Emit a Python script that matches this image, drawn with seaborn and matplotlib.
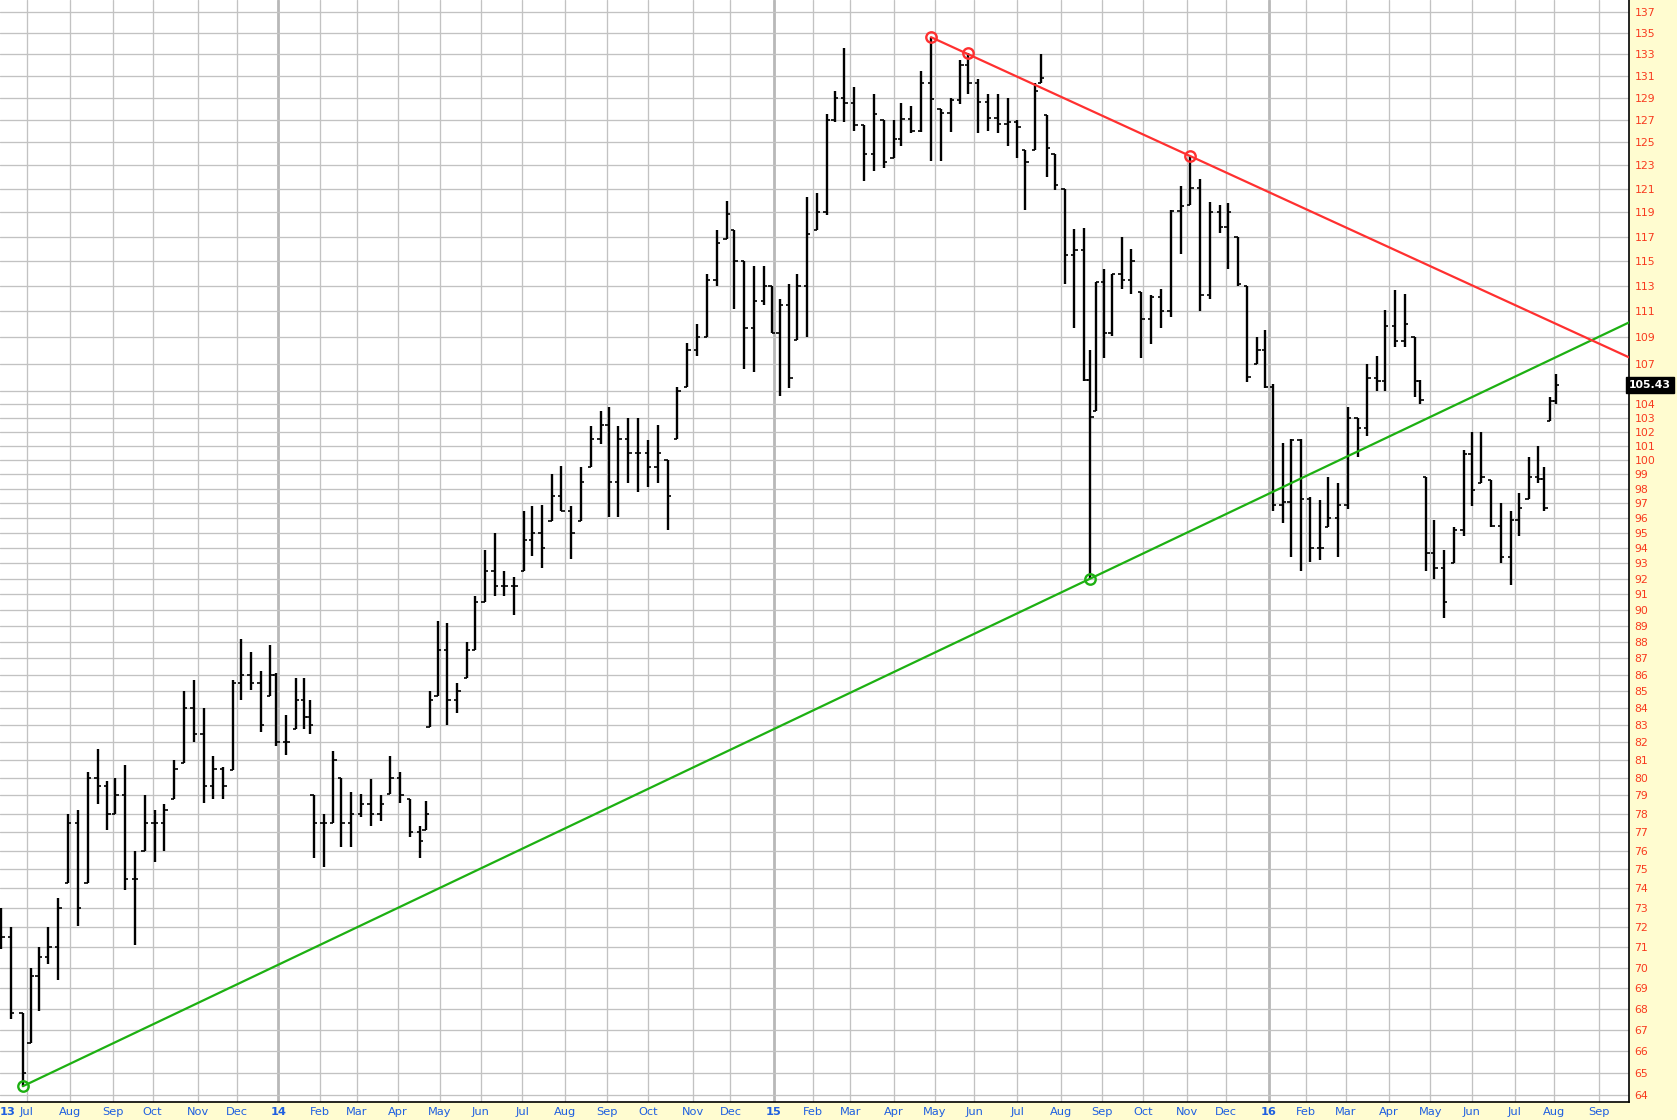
import numpy as np
import pandas as pd
import matplotlib
matplotlib.use('Agg')
import matplotlib.pyplot as plt
import matplotlib.transforms as mtrans
import seaborn as sns
from matplotlib.ticker import FixedLocator, FixedFormatter, NullLocator
from pandas.tseries.holiday import (AbstractHolidayCalendar, Holiday, nearest_workday,
                                    USMartinLutherKingJr, USPresidentsDay, GoodFriday,
                                    USMemorialDay, USLaborDay, USThanksgivingDay)
from pandas.tseries.offsets import CustomBusinessDay

# weekly price bars (centre date of each bar)
bar_dates = [
    # 2013
    '2013-06-12', '2013-06-19', '2013-06-27', '2013-07-03', '2013-07-10', '2013-07-17', '2013-07-24', '2013-07-31',
    '2013-08-07', '2013-08-14', '2013-08-21', '2013-08-28', '2013-09-04', '2013-09-11', '2013-09-18', '2013-09-25',
    '2013-10-02', '2013-10-09', '2013-10-16', '2013-10-23', '2013-10-30', '2013-11-06', '2013-11-13', '2013-11-20',
    '2013-11-27', '2013-12-04', '2013-12-11', '2013-12-18', '2013-12-26', '2013-12-31',
    # 2014
    '2014-01-08', '2014-01-15', '2014-01-22', '2014-01-27', '2014-01-29', '2014-02-05', '2014-02-12', '2014-02-19',
    '2014-02-26', '2014-03-05', '2014-03-12', '2014-03-19', '2014-03-26', '2014-04-02', '2014-04-09', '2014-04-16',
    '2014-04-22', '2014-04-24', '2014-04-30', '2014-05-07', '2014-05-14', '2014-05-21', '2014-05-28', '2014-06-04',
    '2014-06-11', '2014-06-18', '2014-06-25', '2014-07-02', '2014-07-09', '2014-07-16', '2014-07-23', '2014-07-30',
    '2014-08-06', '2014-08-13', '2014-08-20', '2014-08-27', '2014-09-03', '2014-09-10', '2014-09-17', '2014-09-24',
    '2014-10-01', '2014-10-08', '2014-10-15', '2014-10-22', '2014-10-29', '2014-11-05', '2014-11-12', '2014-11-19',
    '2014-11-26', '2014-12-03', '2014-12-10', '2014-12-17', '2014-12-24', '2014-12-31',
    # 2015
    '2015-01-07', '2015-01-14', '2015-01-21', '2015-01-28', '2015-02-04', '2015-02-11', '2015-02-18', '2015-02-25',
    '2015-03-04', '2015-03-11', '2015-03-18', '2015-03-25', '2015-04-01', '2015-04-08', '2015-04-15', '2015-04-22',
    '2015-04-29', '2015-05-06', '2015-05-13', '2015-05-20', '2015-05-27', '2015-06-03', '2015-06-10', '2015-06-17',
    '2015-06-24', '2015-07-01', '2015-07-08', '2015-07-15', '2015-07-20', '2015-07-23', '2015-07-29', '2015-08-05',
    '2015-08-12', '2015-08-19', '2015-08-24', '2015-08-27', '2015-09-02', '2015-09-09', '2015-09-16', '2015-09-23',
    '2015-09-30', '2015-10-07', '2015-10-14', '2015-10-21', '2015-10-28', '2015-11-04', '2015-11-11', '2015-11-18',
    '2015-11-25', '2015-12-02', '2015-12-09', '2015-12-16', '2015-12-23', '2015-12-30',
    # 2016
    '2016-01-06', '2016-01-13', '2016-01-20', '2016-01-27', '2016-02-03', '2016-02-10', '2016-02-17', '2016-02-24',
    '2016-03-02', '2016-03-09', '2016-03-16', '2016-03-23', '2016-03-30', '2016-04-06', '2016-04-13', '2016-04-20',
    '2016-04-25', '2016-04-28', '2016-05-04', '2016-05-11', '2016-05-18', '2016-05-25', '2016-06-01', '2016-06-08',
    '2016-06-15', '2016-06-22', '2016-06-29', '2016-07-06', '2016-07-13', '2016-07-20', '2016-07-25', '2016-07-28',
    '2016-08-02',
]

bar_high = [
    73.0, 72.0, 67.8, 70.0, 71.0, 72.0, 73.5, 78.0, 78.2, 80.3, 81.6, 79.8, 80.0, 80.7, 76.0, 79.0,
    78.2, 78.5, 81.0, 85.0, 85.7, 84.0, 81.2, 80.6, 85.7, 88.2, 87.4, 86.2, 87.8, 86.1,
    83.6, 85.8, 85.8, 84.5, 79.0, 78.0, 81.5, 80.0, 79.2, 79.1, 79.9, 79.0, 81.2, 80.3, 78.8, 77.3,
    78.7, 85.0, 89.3, 89.2, 85.5, 88.0, 90.9, 93.9, 95.0, 92.5, 92.1, 96.5, 96.8, 96.9, 99.0, 99.6,
    96.8, 99.5, 102.4, 103.5, 103.8, 102.4, 103.0, 103.0, 101.4, 102.5, 100.0, 105.3, 108.6, 110.0, 114.0, 117.5,
    120.0, 117.5, 115.0, 114.6, 114.6, 113.0,
    112.0, 113.2, 114.0, 120.3, 120.6, 127.5, 129.6, 133.6, 130.0, 126.5, 129.3, 127.0, 127.0, 128.5, 128.2, 131.4,
    134.6, 128.0, 129.0, 132.5, 133.1, 130.7, 129.3, 129.3, 129.0, 127.0, 124.3, 130.3, 133.0, 127.4, 124.0, 121.0,
    117.6, 117.7, 108.0, 113.3, 114.4, 114.0, 117.0, 116.0, 112.5, 112.3, 112.8, 119.2, 121.2, 123.8, 121.8, 119.9,
    119.6, 119.8, 117.0, 113.0, 109.0, 109.6,
    105.5, 101.2, 101.5, 101.5, 97.4, 97.2, 98.8, 98.4, 103.8, 103.0, 107.0, 107.6, 111.1, 112.7, 112.4, 109.0,
    105.8, 98.8, 95.9, 93.9, 95.4, 100.7, 102.0, 102.0, 98.6, 97.0, 96.5, 97.7, 100.2, 101.0, 99.5, 104.5,
    106.2,
]

bar_low = [
    70.9, 67.5, 64.4, 66.4, 67.9, 70.2, 69.4, 74.3, 72.1, 74.3, 78.5, 77.1, 78.0, 73.9, 71.1, 76.0,
    75.4, 76.0, 78.8, 80.8, 82.0, 78.6, 78.8, 78.8, 80.4, 84.5, 85.1, 82.6, 84.7, 81.8,
    81.3, 82.8, 82.8, 82.5, 75.6, 75.1, 77.5, 76.2, 76.2, 77.8, 77.3, 77.6, 79.1, 78.6, 76.7, 75.6,
    77.1, 82.9, 84.7, 83.0, 83.7, 85.8, 87.5, 90.5, 90.9, 90.9, 89.7, 92.5, 93.5, 92.7, 95.8, 96.5,
    93.3, 95.8, 99.5, 101.1, 96.1, 96.1, 98.4, 97.8, 98.1, 98.4, 95.2, 101.5, 105.3, 107.6, 109.0, 113.0,
    116.8, 111.2, 106.6, 106.4, 111.5, 109.3,
    104.6, 105.2, 108.8, 109.0, 117.5, 118.8, 126.8, 126.8, 126.0, 121.7, 122.5, 122.8, 123.6, 124.7, 125.8, 125.9,
    123.4, 123.4, 125.9, 128.4, 129.3, 125.8, 126.0, 125.8, 124.7, 123.6, 119.2, 124.3, 130.3, 122.0, 120.9, 113.2,
    109.7, 105.7, 92.0, 103.5, 107.4, 109.1, 112.8, 112.4, 107.4, 108.5, 109.7, 110.6, 115.6, 119.6, 111.0, 112.0,
    117.3, 114.4, 113.0, 105.6, 107.0, 105.2,
    96.5, 95.7, 93.4, 92.5, 93.1, 93.2, 95.4, 93.4, 96.6, 100.2, 101.7, 105.0, 105.0, 108.3, 108.3, 104.5,
    104.0, 92.5, 92.0, 89.5, 93.0, 94.8, 96.8, 98.4, 95.4, 93.0, 91.6, 94.8, 97.3, 98.4, 96.5, 102.8,
    104.0,
]

bar_close = [
    71.5, 67.8, 65.0, 69.6, 70.5, 71.0, 73.0, 77.5, 73.0, 80.0, 79.5, 78.0, 79.0, 74.5, 74.5, 77.5,
    77.5, 78.2, 80.5, 84.0, 82.5, 79.5, 80.5, 79.5, 85.5, 86.0, 85.5, 83.0, 86.0, 82.0,
    82.0, 84.5, 83.5, 83.0, 77.5, 77.5, 81.0, 77.5, 78.0, 78.5, 78.0, 78.5, 80.0, 79.0, 77.0, 76.5,
    78.0, 84.5, 87.5, 84.5, 85.0, 87.5, 90.5, 92.5, 91.5, 91.5, 91.5, 94.5, 95.0, 94.0, 97.5, 96.5,
    95.0, 98.5, 101.5, 102.5, 98.5, 101.5, 100.5, 100.5, 99.5, 100.5, 97.5, 105.0, 108.0, 109.0, 113.5, 116.5,
    118.9, 115.0, 109.7, 111.8, 113.0, 109.3,
    111.5, 105.9, 113.0, 117.2, 119.0, 127.0, 129.0, 128.5, 126.5, 124.0, 127.5, 123.3, 125.3, 127.1, 126.0, 130.3,
    128.9, 127.6, 128.8, 132.0, 130.3, 128.6, 127.2, 126.6, 126.8, 126.4, 123.3, 129.6, 130.8, 124.5, 121.3, 115.5,
    115.9, 105.8, 103.1, 113.3, 109.3, 114.0, 113.5, 115.0, 110.4, 112.1, 111.0, 119.1, 119.5, 121.1, 112.3, 119.0,
    117.8, 119.0, 113.2, 106.0, 108.0, 105.3,
    96.9, 97.1, 101.4, 97.3, 94.0, 94.0, 96.0, 96.9, 103.0, 102.3, 105.9, 105.7, 109.9, 108.7, 110.0, 105.7,
    104.3, 93.7, 92.7, 90.5, 95.2, 100.4, 97.9, 98.8, 95.5, 93.4, 95.9, 96.7, 98.8, 98.7, 96.7, 104.2,
    105.43,
]

last_price = 105.43

# trend line anchors (date, price)
support_pts = [('2013-06-27', 64.4), ('2015-08-24', 92.0)]
resist_pts = [('2015-04-29', 134.6), ('2015-05-27', 133.1), ('2015-11-04', 123.8)]

price_ticks = list(range(64, 106)) + list(range(107, 138, 2))
price_labels = ['' if p == 105 else str(p) for p in price_ticks]

PANEL = '#FFFCD0'
GRID = '#C2C2C2'
RED = '#FF3030'
GREEN = '#1DB012'
BLUE = '#1E5FE0'
LABEL_RED = '#F83A1E'


class ExchangeCalendar(AbstractHolidayCalendar):
    rules = [
        Holiday('NewYear', month=1, day=1, observance=nearest_workday),
        USMartinLutherKingJr, USPresidentsDay, GoodFriday, USMemorialDay,
        Holiday('July4', month=7, day=4, observance=nearest_workday),
        USLaborDay, USThanksgivingDay,
        Holiday('Christmas', month=12, day=25, observance=nearest_workday),
    ]


days = pd.date_range('2013-06-03', '2016-10-31', freq=CustomBusinessDay(calendar=ExchangeCalendar()))


def tidx(d):
    return int(days.searchsorted(pd.Timestamp(d)))


sns.set_theme(style='white')
plt.rcParams['font.family'] = ['DejaVu Sans']

fig = plt.figure(figsize=(16.77, 11.2), dpi=100, facecolor=PANEL)
ax = fig.add_axes([0, 18 / 1120, 1629 / 1677, 1102 / 1120])
ax.set_facecolor('white')

x_lo = tidx('2013-07-01') - 13.6
x_hi = tidx('2016-09-01') + 15.1

# grid
pos = pd.Series(np.arange(len(days)), index=days)
firsts = pos.groupby([days.year, days.month]).first()
mt_pos, mt_lab, mt_year = [], [], []
for (yr, mo), i in firsts.items():
    if x_lo < i < x_hi:
        mt_pos.append(i)
        mt_lab.append(f'{yr % 100:02d}' if mo == 1 else pd.Timestamp(yr, mo, 1).strftime('%b'))
        mt_year.append(mo == 1)
        ax.axvline(i, color='#B8B8B8' if mo == 1 else GRID, lw=2.0 if mo == 1 else 0.95, zorder=0)
for p in price_ticks:
    ax.axhline(p, color=GRID, lw=0.95, zorder=0)

# bars: open tick = previous close kept inside the bar's range
bx = np.array([tidx(d) for d in bar_dates], dtype=float)
hi = np.array(bar_high)
lo = np.array(bar_low)
cl = np.array(bar_close)
op = np.clip(np.r_[cl[0], cl[:-1]], lo, hi)
ax.vlines(bx, lo, hi, color='black', lw=1.7, zorder=2)
ax.hlines(cl, bx, bx + 1.7, color='black', lw=1.2, zorder=2)
ax.hlines(op, bx - 1.7, bx, color='black', lw=1.2, zorder=2)


def extend(pts, x_end):
    (d1, y1), (d2, y2) = pts[0], pts[-1]
    x1, x2 = tidx(d1), tidx(d2)
    k = (np.log(y2) - np.log(y1)) / (x2 - x1)
    return [x1, x_end], [y1, float(np.exp(np.log(y1) + k * (x_end - x1)))]


for pts, col in [(support_pts, GREEN), (resist_pts, RED)]:
    lx, ly = extend(pts, x_hi + 5)
    sns.lineplot(x=lx, y=ly, ax=ax, color=col, lw=1.6, zorder=3, sort=False)
    ax.plot([tidx(d) for d, _ in pts], [v for _, v in pts], 'o', ms=7.5, mfc='none',
            mec=col, mew=1.7, zorder=4)

ax.set_yscale('log')
ax.set_xlim(x_lo, x_hi)
ax.set_ylim(63.69, 138.16)

ax.yaxis.tick_right()
ax.yaxis.set_major_locator(FixedLocator(price_ticks))
ax.yaxis.set_major_formatter(FixedFormatter(price_labels))
ax.yaxis.set_minor_locator(NullLocator())
ax.tick_params(axis='y', which='both', length=0, pad=4, labelcolor=LABEL_RED, labelsize=7.8)

ax.set_xticks(mt_pos)
ax.set_xticklabels(mt_lab)
ax.tick_params(axis='x', length=2, color=GRID, pad=1.5, labelcolor=BLUE, labelsize=8.2)
for lab, is_year in zip(ax.get_xticklabels(), mt_year):
    if is_year:
        lab.set_fontweight('bold')
ax.annotate('13', xy=(0, 0), xycoords='axes fraction', xytext=(0, -3.5), textcoords='offset points',
            ha='left', va='top', color=BLUE, fontsize=8.2, fontweight='bold')

for side in ['left', 'top']:
    ax.spines[side].set_visible(False)
for side in ['right', 'bottom']:
    ax.spines[side].set_color('black')
    ax.spines[side].set_linewidth(1.2)

trans = mtrans.blended_transform_factory(ax.transAxes, ax.transData)
ax.text(1.0, last_price, f'{last_price:.2f}', transform=trans, ha='left', va='center',
        color='white', fontsize=7.8, fontweight='bold', zorder=5, clip_on=False,
        bbox=dict(boxstyle='square,pad=0.28', fc='black', ec='black'))

ax.set_xlabel('')
ax.set_ylabel('')
fig.savefig('out.png', dpi=100, facecolor=PANEL)
